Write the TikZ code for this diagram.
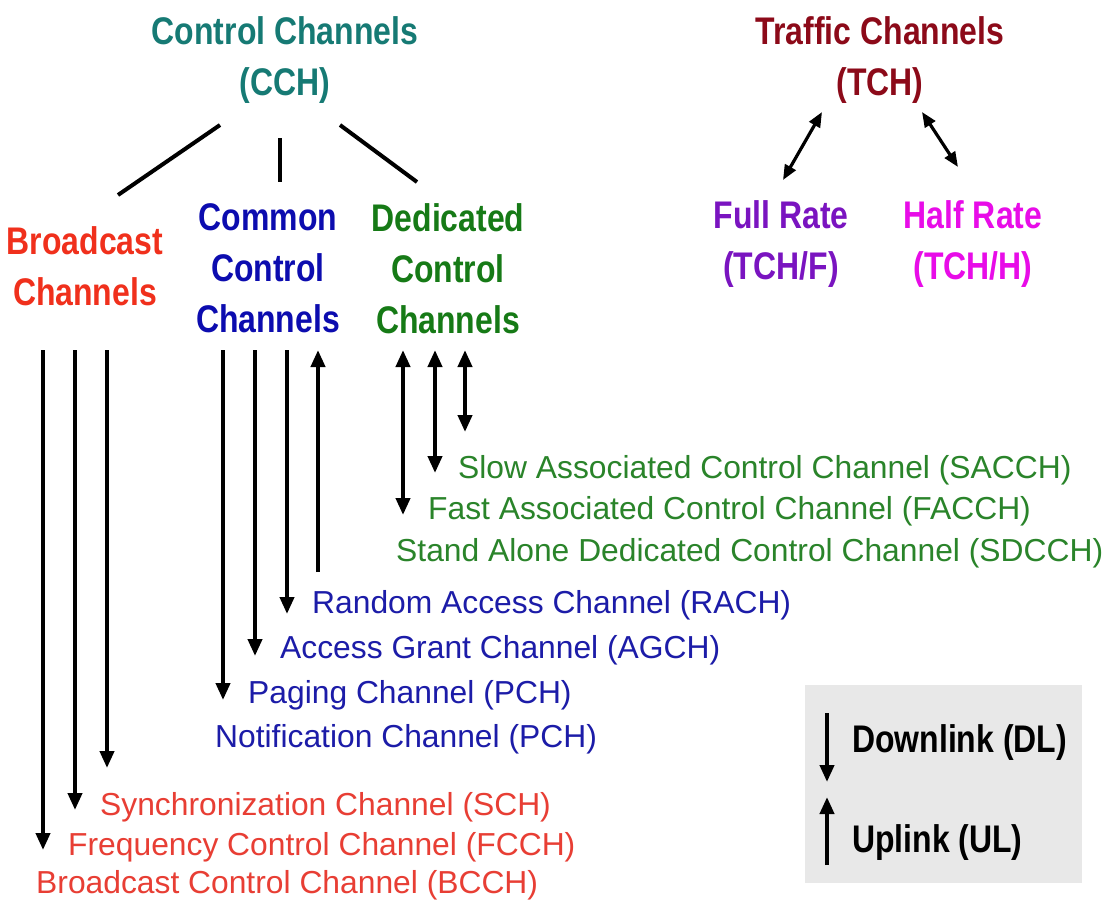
\documentclass[tikz,border=0pt]{standalone}
\usepackage{fontspec}
\setmainfont{Liberation Sans}
\newfontfamily\headfont[FakeStretch=0.83]{Liberation Sans}
\usetikzlibrary{arrows.meta}
\definecolor{cchc}{RGB}{22,122,116}
\definecolor{tchc}{RGB}{140,10,25}
\definecolor{bcchead}{RGB}{240,48,28}
\definecolor{bcclist}{RGB}{232,62,52}
\definecolor{comhead}{RGB}{12,12,175}
\definecolor{comlist}{RGB}{28,28,168}
\definecolor{dedhead}{RGB}{22,122,22}
\definecolor{dedlist}{RGB}{42,132,42}
\definecolor{fullc}{RGB}{122,20,192}
\definecolor{halfc}{RGB}{232,12,232}
\definecolor{legbg}{RGB}{232,232,232}
\begin{document}
\begin{tikzpicture}[x=1pt,y=-1pt,
  head/.style={font=\headfont\bfseries\fontsize{38.5}{51}\selectfont, align=center, inner sep=0pt, anchor=north},
  item/.style={font=\fontsize{31.8}{36}\selectfont, inner sep=0pt, anchor=base west},
  legtext/.style={font=\headfont\bfseries\fontsize{38.5}{46}\selectfont, inner sep=0pt, anchor=base west},
  tree/.style={line width=4pt},
  dn/.style={line width=4pt, -{Triangle[length=17pt,width=14pt]}},
  both/.style={line width=4pt, {Triangle[length=17pt,width=14pt]}-{Triangle[length=17pt,width=14pt]}},
  tboth/.style={line width=3.2pt, {Triangle[length=15pt,width=12pt]}-{Triangle[length=15pt,width=12pt]}}]
\useasboundingbox (0,0) rectangle (1107,911);
\fill[white] (0,0) rectangle (1107,911);

% headings
\node[head, text=cchc] (cch) at (285,16) {Control Channels\\(CCH)};
\node[head, text=tchc] (tch) at (880,16) {Traffic Channels\\(TCH)};
\node[head, text=bcchead] (bc) at (85,226) {Broadcast\\Channels};
\node[head, text=comhead] (cc) at (268,203) {Common\\Control\\Channels};
\node[head, text=dedhead] (dc) at (448,203) {Dedicated\\Control\\Channels};
\node[head, text=fullc] (fr) at (781,200) {Full Rate\\(TCH/F)};
\node[head, text=halfc] (hr) at (973,200) {Half Rate\\(TCH/H)};

% tree lines under CCH
\coordinate (t1a) at (220,125); \coordinate (t1b) at (118,195);
\coordinate (t2a) at (280,138); \coordinate (t2b) at (280,182);
\coordinate (t3a) at (340,125); \coordinate (t3b) at (417,182);
\draw[tree] (t1a) -- (t1b);
\draw[tree] (t2a) -- (t2b);
\draw[tree] (t3a) -- (t3b);

% TCH arrows
\coordinate (f1) at (822,112); \coordinate (f2) at (783,180);
\coordinate (h1) at (922,112); \coordinate (h2) at (958,167);
\draw[tboth] (f1) -- (f2);
\draw[tboth] (h1) -- (h2);

% dedicated list
\node[item, text=dedlist] (sacch) at (458,478) {Slow Associated Control Channel (SACCH)};
\node[item, text=dedlist] (facch) at (428,519) {Fast Associated Control Channel (FACCH)};
\node[item, text=dedlist] (sdcch) at (396,561) {Stand Alone Dedicated Control Channel (SDCCH)};
\coordinate (d1t) at (403,350); \coordinate (d1b) at (403,515);
\coordinate (d2t) at (435,350); \coordinate (d2b) at (435,473);
\coordinate (d3t) at (465,350); \coordinate (d3b) at (465,432);
\draw[both] (d1t) -- (d1b);
\draw[both] (d2t) -- (d2b);
\draw[both] (d3t) -- (d3b);

% common list
\node[item, text=comlist] (rach) at (312,613) {Random Access Channel (RACH)};
\node[item, text=comlist] (agch) at (280,658) {Access Grant Channel (AGCH)};
\node[item, text=comlist] (pch) at (248,703) {Paging Channel (PCH)};
\node[item, text=comlist] (nch) at (215,747) {Notification Channel (PCH)};
\coordinate (c1t) at (223,350); \coordinate (c1b) at (223,700);
\coordinate (c2t) at (255,350); \coordinate (c2b) at (255,656);
\coordinate (c3t) at (287,350); \coordinate (c3b) at (287,614);
\coordinate (c4t) at (318,350); \coordinate (c4b) at (318,572);
\draw[dn] (c1t) -- (c1b);
\draw[dn] (c2t) -- (c2b);
\draw[dn] (c3t) -- (c3b);
\draw[dn] (c4b) -- (c4t);

% broadcast list
\node[item, text=bcclist] (sch) at (100,815) {Synchronization Channel (SCH)};
\node[item, text=bcclist] (fcch) at (68,855) {Frequency Control Channel (FCCH)};
\node[item, text=bcclist] (bcch) at (36,893) {Broadcast Control Channel (BCCH)};
\coordinate (b1t) at (43,350); \coordinate (b1b) at (43,850);
\coordinate (b2t) at (75,350); \coordinate (b2b) at (75,810);
\coordinate (b3t) at (107,350); \coordinate (b3b) at (107,768);
\draw[dn] (b1t) -- (b1b);
\draw[dn] (b2t) -- (b2b);
\draw[dn] (b3t) -- (b3b);

% legend
\fill[legbg] (805,685) rectangle (1082,883);
\node[legtext] (dl) at (852,752) {Downlink (DL)};
\node[legtext] (ul) at (852,852) {Uplink (UL)};
\coordinate (l1t) at (827,713); \coordinate (l1b) at (827,782);
\coordinate (l2t) at (827,797); \coordinate (l2b) at (827,865);
\draw[dn] (l1t) -- (l1b);
\draw[dn] (l2b) -- (l2t);
\end{tikzpicture}
\end{document}
